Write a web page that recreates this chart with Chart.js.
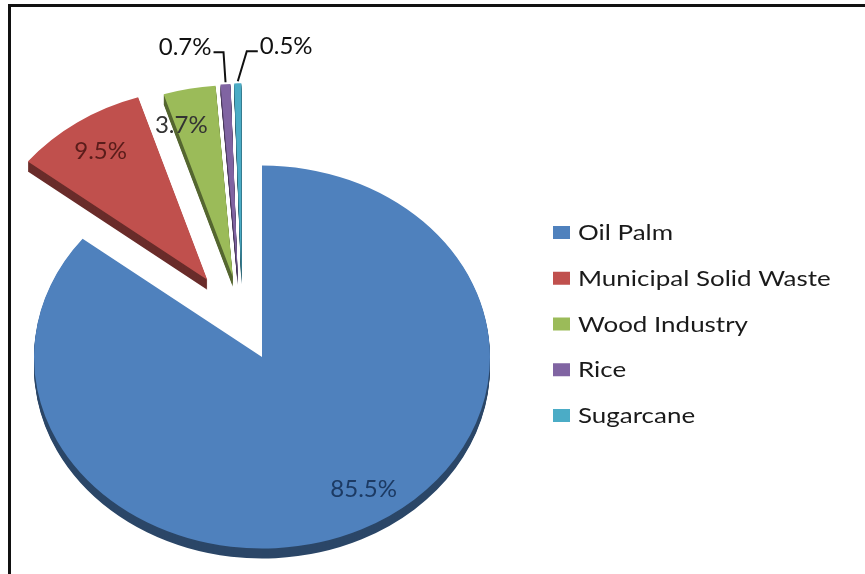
<!DOCTYPE html>
<html>
<head>
<meta charset="utf-8">
<script src="https://cdn.jsdelivr.net/npm/chart.js@4.4.1/dist/chart.umd.min.js"></script>
<style>
  body { margin: 0; background: #fff; }
  #wrap { position: relative; width: 865px; height: 574px; }
  #myChart { display: block; }
  #frame { position: absolute; left: 8px; top: 4px; right: 0; bottom: 0; border-top: 3px solid #111; border-left: 3px solid #111; pointer-events: none; }
</style>
</head>
<body>
<div id="wrap">
  <canvas id="myChart" width="865" height="574"></canvas>
  <div id="frame"></div>
</div>
<script>
var sources = ['Oil Palm', 'Municipal Solid Waste', 'Wood Industry', 'Rice', 'Sugarcane'];
var shares = [85.5, 9.5, 3.7, 0.7, 0.5];
var colours = ['#4f81bd', '#c0504d', '#9bbb59', '#8064a2', '#4bacc6'];
var labelColours = ['#1c3a63', '#5a1c1a', '#333333', '#111111', '#111111'];

// how far each slice is pulled out (px) and a small turn of that direction (deg)
var explode = [0, 107, 100, 100, 100];
var explodeTurn = [0, 4, -6, -11, -11];
// small turn of the inside labels (deg)
var labelTurn = [-7, 0, -5, 0, 0];

var tilt = 0.84;   // squash of the pie to fake the 3d view
var depth = 10;    // thickness of the side

function explodeVec(arc, i) {
    var a = (arc.startAngle + arc.endAngle) / 2 + explodeTurn[i] * Math.PI / 180;
    return [Math.cos(a) * explode[i], Math.sin(a) * explode[i]];
}

var pie3d = {
    id: 'pie3d',
    beforeDatasetDraw: function(chart, args) {
        var ctx = chart.ctx;
        var arcs = args.meta.data;
        var cx = arcs[0].x, cy = arcs[0].y;
        ctx.save();
        ctx.translate(cx, cy);
        ctx.scale(1, tilt);
        ctx.translate(-cx, -cy);
        // side walls first
        for (var d = depth; d >= 1; d--) {
            arcs.forEach(function(arc, i) {
                var e = explodeVec(arc, i);
                ctx.save();
                ctx.filter = 'brightness(0.55)';
                ctx.translate(e[0], e[1] + d / tilt);
                arc.draw(ctx);
                ctx.restore();
            });
        }
        // top faces
        arcs.forEach(function(arc, i) {
            var e = explodeVec(arc, i);
            ctx.save();
            ctx.translate(e[0], e[1]);
            arc.draw(ctx);
            ctx.restore();
        });
        ctx.restore();
        return false;
    },
    afterDraw: function(chart) {
        var ctx = chart.ctx;
        var arcs = chart.getDatasetMeta(0).data;
        var cx = arcs[0].x, cy = arcs[0].y;
        var outside = 0;
        ctx.save();
        ctx.font = '24px Lato';
        ctx.textBaseline = 'middle';
        arcs.forEach(function(arc, i) {
            var mid = (arc.startAngle + arc.endAngle) / 2;
            var e = explodeVec(arc, i);
            var r = arc.outerRadius;
            var txt = shares[i].toFixed(1) + '%';
            ctx.fillStyle = labelColours[i];
            if (shares[i] >= 2) {
                var la = mid + labelTurn[i] * Math.PI / 180;
                var px = cx + e[0] + Math.cos(la) * r * 0.82;
                var py = cy + (e[1] + Math.sin(la) * r * 0.82) * tilt;
                ctx.textAlign = 'center';
                ctx.fillText(txt, px, py);
            } else {
                var side = (outside++ % 2 === 0) ? -1 : 1;
                var qx = cx + e[0] + Math.cos(mid) * r;
                var qy = cy + (e[1] + Math.sin(mid) * r) * tilt - 2;
                var ly = qy - 30;
                ctx.strokeStyle = '#111';
                ctx.lineWidth = 2;
                ctx.beginPath();
                ctx.moveTo(qx, qy);
                ctx.lineTo(qx + side * (side < 0 ? 2 : 9), ly);
                ctx.lineTo(qx + side * (side < 0 ? 12 : 20), ly);
                ctx.stroke();
                ctx.textAlign = side < 0 ? 'right' : 'left';
                ctx.fillText(txt, qx + side * (side < 0 ? 14 : 22), ly - 5);
            }
        });

        // legend, text stretched a little like the source image
        ctx.font = '22px Lato';
        ctx.textAlign = 'left';
        sources.forEach(function(name, i) {
            var y = 232 + i * 45.75;
            ctx.fillStyle = colours[i];
            ctx.fillRect(553, y - 6, 17, 13);
            ctx.save();
            ctx.translate(578, y + 1);
            ctx.scale(1.18, 1);
            ctx.fillStyle = '#1a1a1a';
            ctx.fillText(name, 0, 0);
            ctx.restore();
        });
        ctx.restore();
    }
};

var ctx = document.getElementById('myChart').getContext('2d');
var chart = new Chart(ctx, {
    type: 'pie',
    data: {
        labels: sources,
        datasets: [{
            data: shares,
            backgroundColor: colours,
            borderWidth: 0
        }]
    },
    options: {
        responsive: false,
        animation: false,
        devicePixelRatio: 1,
        events: [],
        radius: 228,
        layout: { padding: { left: 0, right: 341, top: 140, bottom: 0 } },
        plugins: {
            legend: { display: false },
            tooltip: { enabled: false }
        }
    },
    plugins: [pie3d]
});
</script>
</body>
</html>
